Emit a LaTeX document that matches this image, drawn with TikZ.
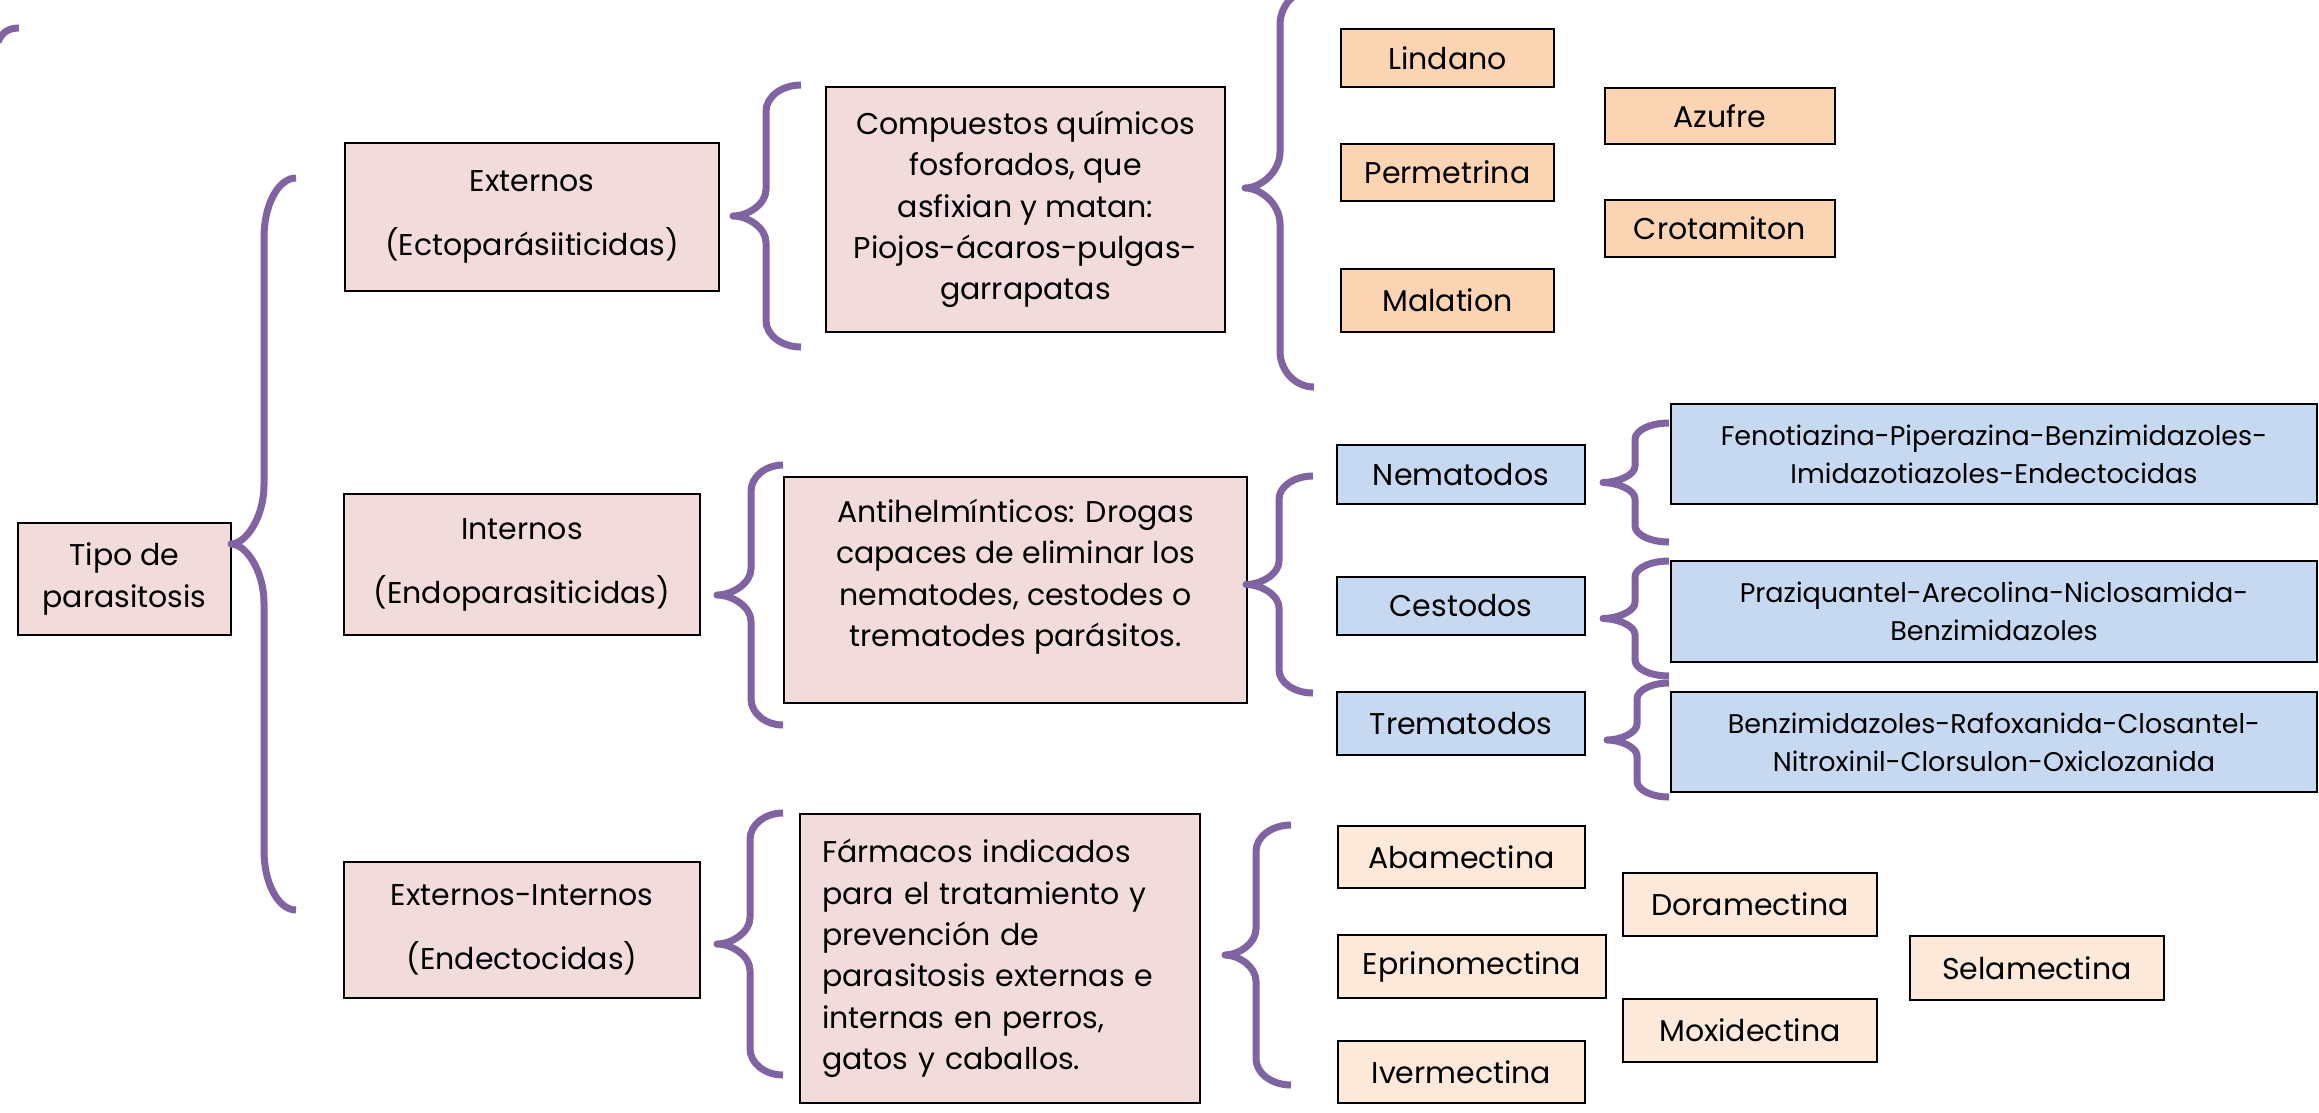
\documentclass[tikz,border=0pt]{standalone}
\usepackage{fontspec}
\setmainfont{Poppins}
\definecolor{pinkbox}{HTML}{F2DCDB}
\definecolor{orangebox}{HTML}{FBD4B4}
\definecolor{paleorange}{HTML}{FDE9D9}
\definecolor{bluebox}{HTML}{C6D9F1}
\definecolor{bracepurple}{HTML}{8064A2}
\tikzset{
  box/.style={draw=black, line width=0.75pt, inner sep=2pt, align=center,
    font=\fontsize{9.0}{12.4}\selectfont},
  pinkb/.style={box, fill=pinkbox},
  orangeb/.style={box, fill=orangebox},
  paleb/.style={box, fill=paleorange},
  blueb/.style={box, fill=bluebox},
  bluetext/.style={font=\fontsize{8.1}{11.4}\selectfont},
  bracestyle/.style={draw=bracepurple, line width=2.1pt, line join=round}
}
% #1 style, #2 name, #3 x1, #4 y1, #5 x2, #6 y2, #7 text
\newcommand\bx[7][]{%
  \node[#1, minimum width={(#5-#3)*0.3pt}, minimum height={(#6-#4)*0.3pt}]
    (#2) at ({(#3+#5)/2},{(#4+#6)/2}) {#7};}
% #1 tip x, #2 stem x, #3 end x, #4 top y, #5 bottom y
\newcommand\mybrace[5]{%
  \pgfmathsetmacro\bL{0.07*(#5-#4)+8}%
  \pgfmathsetmacro\bc{(#4+#5)/2}%
  \draw[bracestyle] (#3,#4) .. controls ({#2+0.45*(#3-#2)},#4) and (#2,{#4+0.45*\bL}) .. (#2,{#4+\bL})
    -- (#2,{\bc-\bL}) .. controls (#2,{\bc-0.45*\bL}) and ({#1+0.45*(#2-#1)},\bc) .. (#1,\bc)
    .. controls ({#1+0.45*(#2-#1)},\bc) and (#2,{\bc+0.45*\bL}) .. (#2,{\bc+\bL})
    -- (#2,{#5-\bL}) .. controls (#2,{#5-0.45*\bL}) and ({#2+0.45*(#3-#2)},#5) .. (#3,#5);}
\begin{document}
\begin{tikzpicture}[x=0.3pt,y=-0.3pt]
\useasboundingbox (0,0) rectangle (2319,1112);

% level 0
\bx[pinkb]{tipo}{18}{523}{231}{635}{Tipo de\\parasitosis}
% level 1
\bx[pinkb]{ext}{345}{143}{719}{291}{Externos\\[6.8pt](Ectoparásiiticidas)}
\bx[pinkb]{int}{344}{494}{700}{635}{Internos\\[6.8pt](Endoparasiticidas)}
\bx[pinkb]{exint}{344}{862}{700}{998}{Externos-Internos\\[6.8pt](Endectocidas)}
% level 2
\bx[pinkb]{comp}{826}{87}{1225}{332}{Compuestos químicos\\fosforados, que\\asfixian y matan:\\Piojos-ácaros-pulgas-\\garrapatas}
\bx[pinkb]{anti}{784}{477}{1247}{703}{Antihelmínticos: Drogas\\capaces de eliminar los\\nematodes, cestodes o\\trematodes parásitos.\\[-2pt]\mbox{}}
\bx[pinkb, align=left, inner xsep=6.6pt, text width=106.8pt]{farm}{800}{814}{1200}{1103}{Fármacos indicados\\para el tratamiento y\\prevención de\\parasitosis externas e\\internas en perros,\\gatos y caballos.}
% ectoparasiticides
\bx[orangeb]{lind}{1341}{29}{1554}{87}{Lindano}
\bx[orangeb]{perm}{1341}{144}{1554}{201}{Permetrina}
\bx[orangeb]{mala}{1341}{269}{1554}{332}{Malation}
\bx[orangeb]{azuf}{1605}{88}{1835}{144}{Azufre}
\bx[orangeb]{crot}{1605}{200}{1835}{257}{Crotamiton}
% endoparasiticides
\bx[blueb]{nema}{1337}{445}{1585}{504}{Nematodos}
\bx[blueb]{cest}{1337}{577}{1585}{635}{Cestodos}
\bx[blueb]{trem}{1337}{692}{1585}{755}{Trematodos}
\bx[blueb, bluetext]{feno}{1671}{404}{2317}{504}{Fenotiazina-Piperazina-Benzimidazoles-\\Imidazotiazoles-Endectocidas}
\bx[blueb, bluetext]{praz}{1671}{561}{2317}{662}{Praziquantel-Arecolina-Niclosamida-\\Benzimidazoles}
\bx[blueb, bluetext]{benz}{1671}{692}{2317}{792}{Benzimidazoles-Rafoxanida-Closantel-\\Nitroxinil-Clorsulon-Oxiclozanida}
% endectocides
\bx[paleb]{abam}{1338}{826}{1585}{888}{Abamectina}
\bx[paleb]{epri}{1338}{935}{1606}{998}{Eprinomectina}
\bx[paleb]{iver}{1338}{1041}{1585}{1103}{Ivermectina}
\bx[paleb]{dora}{1623}{873}{1877}{936}{Doramectina}
\bx[paleb]{moxi}{1623}{999}{1877}{1062}{Moxidectina}
\bx[paleb]{sela}{1910}{936}{2164}{1000}{Selamectina}

% braces
\mybrace{231}{264}{296}{178}{910}
\mybrace{733}{766}{801}{85}{347}
\mybrace{1245}{1280}{1314}{-11}{387}
\mybrace{717}{751}{783}{465}{725}
\mybrace{1246}{1279}{1313}{476}{693}
\mybrace{1603}{1635}{1669}{423}{542}
\mybrace{1603}{1635}{1669}{561}{676}
\mybrace{1607}{1637}{1669}{683}{797}
\mybrace{717}{750}{783}{813}{1075}
\mybrace{1225}{1256}{1291}{825}{1085}
% partial brace at the top-left edge
\draw[bracestyle] (19,28) .. controls (9,28) and (2,32) .. (-2,42);
\end{tikzpicture}
\end{document}
